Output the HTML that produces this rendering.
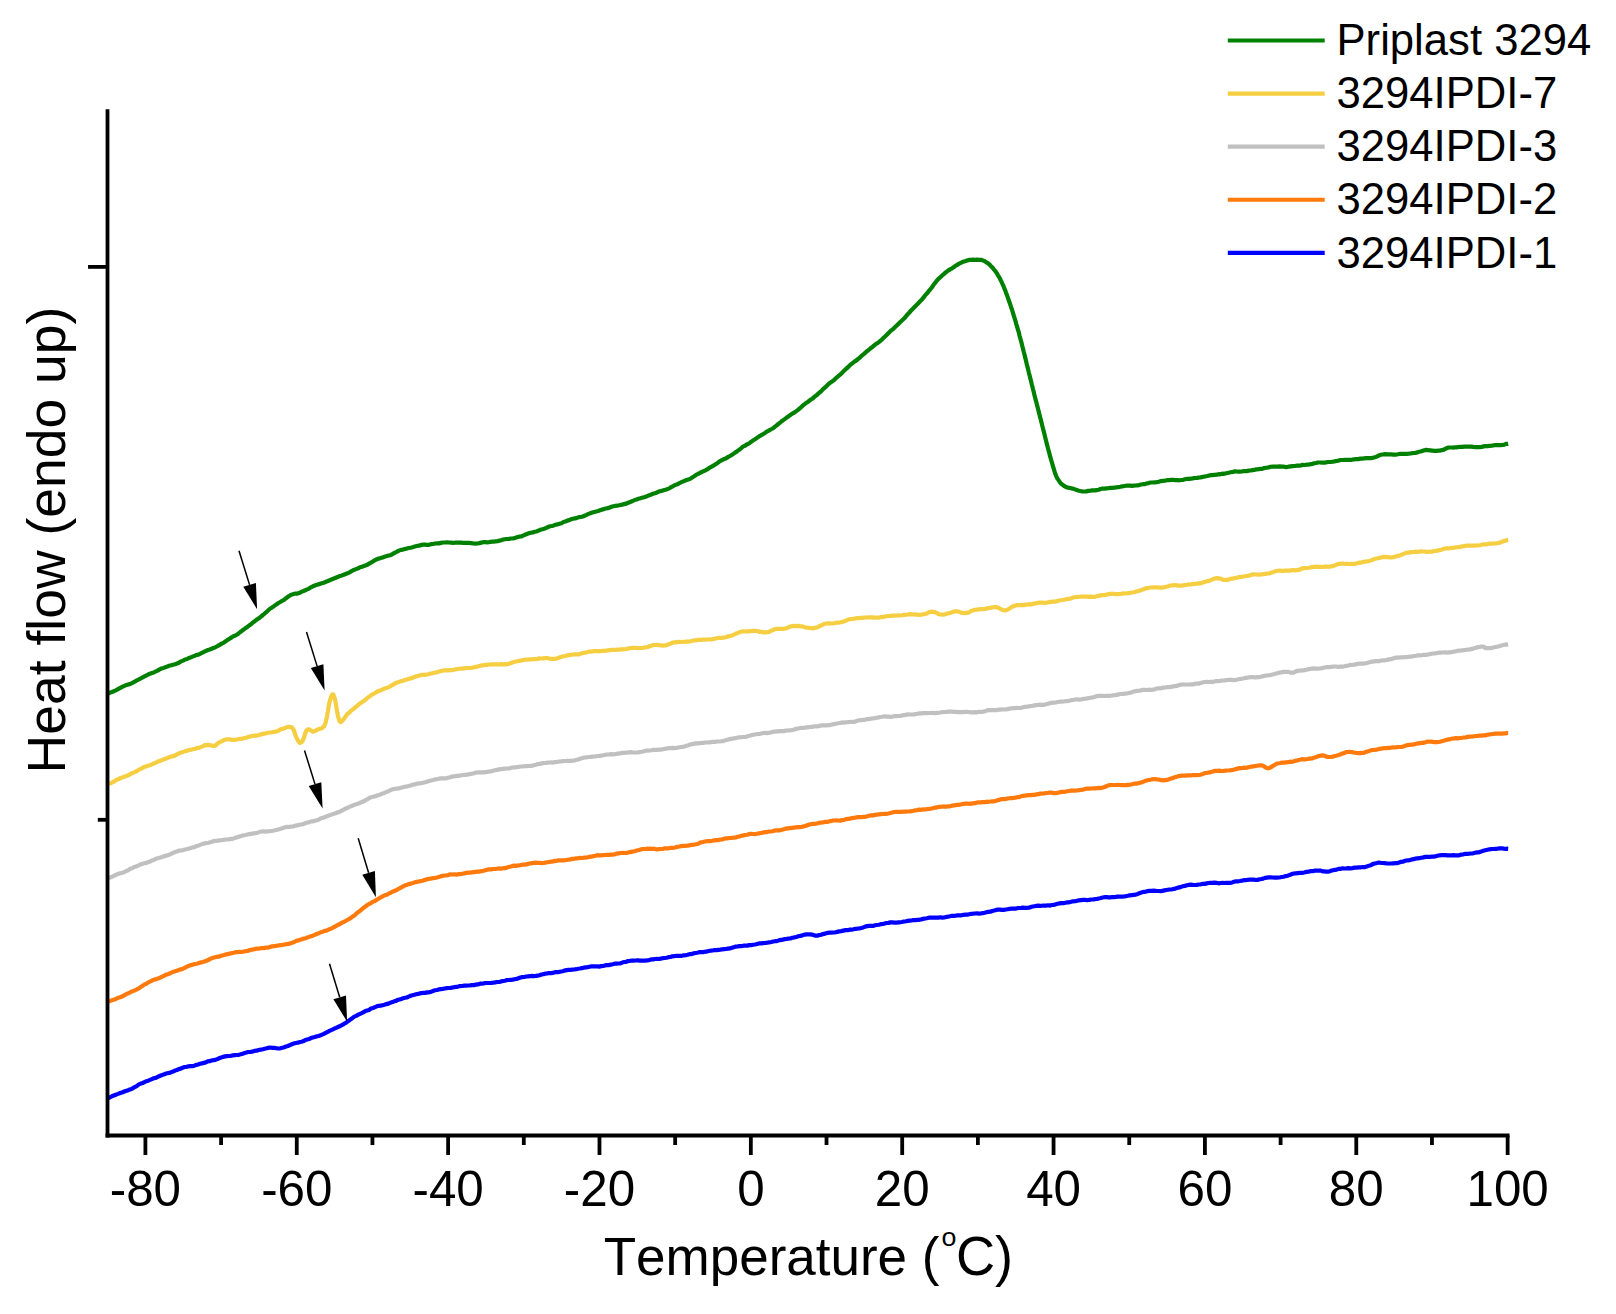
<!DOCTYPE html>
<html lang="en"><head><meta charset="utf-8"><title>DSC heat flow curves</title>
<style>html,body{margin:0;padding:0;background:#fff}body{width:1616px;height:1314px;overflow:hidden}svg{display:block}text{font-family:"Liberation Sans",Arial,Helvetica,sans-serif;fill:#000;font-kerning:none}</style></head><body>
<svg width="1616" height="1314" viewBox="0 0 1616 1314">
<rect width="1616" height="1314" fill="#fff"/>
<g fill="none" stroke-width="4.2" stroke-linejoin="round" stroke-linecap="butt">
<path stroke="#0000FF" d="M107.7,1098.1L108.8,1097.9L110.2,1097.1L111.9,1096.3L113.8,1095.5L115.8,1094.7L118.0,1093.9L120.3,1093.0L122.6,1092.3L125.0,1091.3L126.5,1090.8L128.2,1090.2L129.8,1089.5L131.6,1088.9L133.4,1087.9L135.2,1086.8L137.0,1085.9L138.9,1084.4L140.8,1083.6L142.6,1083.0L144.5,1082.1L146.4,1081.2L148.2,1080.7L150.0,1079.9L151.9,1079.1L153.8,1078.3L155.8,1077.9L157.7,1076.9L159.6,1076.0L161.5,1075.2L163.5,1074.6L165.4,1073.8L167.3,1073.3L169.2,1072.9L171.2,1072.2L173.1,1071.6L175.0,1070.6L176.9,1070.0L178.8,1069.1L180.8,1068.6L182.7,1067.7L184.6,1067.0L186.5,1066.8L188.5,1066.4L190.4,1066.2L192.3,1066.1L194.2,1065.7L196.2,1064.9L198.1,1064.5L200.0,1063.7L201.9,1063.4L203.8,1062.9L205.8,1062.4L207.7,1061.4L209.6,1061.2L211.5,1060.5L213.5,1060.1L215.4,1059.9L217.3,1059.1L219.2,1058.3L221.2,1057.6L223.1,1056.9L225.0,1056.4L226.9,1056.2L228.9,1056.0L230.9,1055.8L232.9,1055.4L234.8,1055.2L236.8,1055.0L238.8,1054.8L240.7,1054.3L242.7,1053.7L244.6,1053.1L246.4,1052.6L248.2,1052.0L250.0,1052.0L252.2,1051.7L254.4,1050.9L256.6,1050.7L258.7,1050.0L260.8,1049.6L262.8,1049.2L264.7,1048.7L266.6,1048.3L268.3,1047.9L270.0,1047.5L272.5,1047.9L274.5,1047.9L276.4,1048.2L278.2,1048.5L280.2,1048.3L282.5,1047.7L284.2,1047.3L286.0,1046.5L287.9,1046.0L289.8,1045.1L291.8,1044.3L293.8,1043.5L295.8,1043.0L297.9,1042.7L300.0,1042.0L301.7,1041.7L303.5,1041.1L305.3,1040.1L307.2,1039.5L309.1,1039.0L310.9,1038.1L312.8,1037.5L314.7,1037.0L316.5,1036.4L318.3,1036.0L320.0,1035.4L321.9,1034.7L323.8,1033.8L325.7,1032.8L327.5,1032.0L329.4,1030.9L331.2,1030.1L332.9,1029.4L334.5,1028.5L336.1,1027.9L337.5,1027.2L339.6,1026.3L341.3,1025.4L342.8,1024.7L344.3,1023.6L345.8,1022.9L347.5,1021.6L349.1,1020.5L350.8,1019.2L352.6,1018.0L354.3,1016.6L356.2,1015.9L358.1,1014.7L360.0,1013.9L361.7,1013.1L363.5,1012.2L365.3,1011.1L367.2,1010.5L369.1,1009.9L371.0,1008.6L373.0,1008.0L375.0,1007.1L376.8,1006.3L378.7,1005.8L380.6,1005.7L382.5,1005.2L384.4,1004.7L386.4,1004.1L388.4,1003.6L390.4,1002.8L392.5,1002.1L394.2,1001.3L396.0,1000.9L397.7,999.9L399.5,999.5L401.3,998.9L403.1,998.3L404.9,997.8L406.8,997.5L408.7,996.6L410.6,995.8L412.5,995.3L414.3,994.8L416.1,994.2L417.9,993.9L419.7,993.4L421.6,993.1L423.4,992.8L425.3,992.9L427.2,992.4L429.1,992.3L431.1,991.7L433.0,991.0L435.0,990.3L436.9,990.0L438.8,989.4L440.7,989.1L442.7,988.9L444.7,988.5L446.7,988.1L448.7,988.0L450.6,987.9L452.6,987.5L454.5,987.1L456.4,986.8L458.2,986.6L460.0,986.1L462.2,986.0L464.2,985.7L466.2,985.7L468.1,985.5L470.0,985.4L471.9,985.2L473.8,985.1L475.8,984.6L477.8,984.4L480.0,983.7L481.8,983.7L483.6,983.4L485.4,983.0L487.3,983.0L489.3,983.0L491.2,982.9L493.2,982.7L495.2,982.4L497.1,982.0L499.1,982.0L501.1,981.4L503.1,981.0L505.0,980.7L506.9,980.1L508.8,980.0L510.8,979.8L512.7,979.6L514.6,979.2L516.5,978.9L518.5,978.2L520.4,977.5L522.3,977.1L524.2,977.0L526.2,976.5L528.1,976.3L530.0,976.2L531.9,975.9L533.8,976.1L535.8,975.9L537.7,975.6L539.6,975.3L541.5,974.5L543.5,974.2L545.4,973.6L547.3,973.4L549.2,973.0L551.2,973.1L553.1,972.9L555.0,972.2L556.9,972.2L558.8,972.1L560.8,971.5L562.7,971.2L564.6,970.6L566.5,970.1L568.5,969.9L570.4,969.8L572.3,969.6L574.2,969.5L576.2,969.2L578.1,968.8L580.0,968.5L581.9,968.1L583.8,967.7L585.8,967.4L587.7,967.1L589.6,966.7L591.5,966.3L593.5,966.3L595.4,966.3L597.3,966.4L599.2,966.6L601.2,966.1L603.1,966.0L605.0,965.4L606.9,965.2L608.8,965.1L610.8,964.6L612.7,964.2L614.6,963.7L616.5,963.6L618.5,963.5L620.4,963.3L622.3,962.6L624.2,962.0L626.2,961.8L628.1,961.0L630.0,960.8L631.9,960.5L633.8,960.6L635.8,960.5L637.7,960.2L639.6,960.6L641.5,960.7L643.5,960.6L645.4,960.7L647.3,960.3L649.2,960.1L651.2,959.4L653.1,959.4L655.0,959.0L656.9,958.9L658.8,959.0L660.8,958.6L662.7,958.2L664.6,958.0L666.5,957.7L668.5,957.2L670.4,957.0L672.3,956.3L674.2,956.2L676.2,955.8L678.1,955.8L680.0,955.8L681.9,955.8L683.8,955.3L685.8,955.1L687.7,954.8L689.6,954.1L691.5,954.1L693.5,953.4L695.4,953.0L697.3,952.7L699.2,952.2L701.2,952.1L703.1,952.1L705.0,951.7L706.9,951.6L708.8,951.0L710.8,950.7L712.7,950.5L714.6,950.0L716.5,950.1L718.5,949.8L720.4,949.6L722.3,949.3L724.2,949.1L726.2,948.9L728.1,948.6L730.0,948.4L731.9,947.8L733.8,947.2L735.8,946.6L737.7,946.4L739.6,946.1L741.5,946.1L743.5,945.7L745.4,945.7L747.3,945.6L749.2,945.1L751.2,945.1L753.1,944.8L755.0,944.5L757.0,944.0L759.0,943.4L761.0,943.4L763.1,943.1L765.2,943.0L767.3,942.7L769.3,942.3L771.3,942.0L773.2,941.5L775.1,941.2L776.8,941.1L778.5,940.6L780.0,940.1L782.7,939.6L784.9,939.1L786.7,938.9L788.4,938.6L790.3,938.5L792.5,937.7L794.3,937.4L796.2,937.0L798.3,936.3L800.5,935.9L802.6,935.2L804.7,934.6L806.7,934.3L808.5,934.3L810.0,934.4L812.5,934.7L814.1,935.3L815.5,935.7L817.5,935.7L819.2,935.0L821.0,934.8L823.0,934.1L825.1,933.6L827.4,932.9L830.0,932.6L831.7,932.6L833.4,932.5L835.3,932.3L837.2,931.9L839.2,931.4L841.3,931.1L843.4,930.6L845.6,930.1L847.8,930.2L850.0,929.6L851.8,929.6L853.6,929.3L855.4,928.8L857.3,928.7L859.3,928.5L861.2,928.0L863.2,927.4L865.2,926.6L867.1,926.1L869.1,925.8L871.1,925.8L873.1,925.9L875.0,925.3L876.9,925.0L878.8,924.7L880.8,924.2L882.7,924.0L884.6,923.5L886.5,923.0L888.5,922.9L890.4,922.4L892.3,922.4L894.2,922.6L896.2,922.7L898.1,922.4L900.0,922.3L901.9,922.0L903.8,921.5L905.8,921.3L907.7,920.9L909.6,920.7L911.5,920.5L913.5,920.0L915.4,920.1L917.3,919.9L919.2,919.8L921.2,919.4L923.1,918.9L925.0,918.5L926.9,918.2L928.8,917.7L930.8,917.7L932.7,917.5L934.6,917.6L936.5,917.5L938.5,917.6L940.4,917.3L942.3,917.6L944.2,917.5L946.2,917.0L948.1,916.6L950.0,916.3L951.9,915.8L953.8,915.8L955.8,915.6L957.7,915.3L959.6,915.4L961.5,915.3L963.5,914.8L965.4,914.7L967.3,914.7L969.2,914.2L971.2,913.8L973.1,913.7L975.0,913.5L976.9,913.3L978.8,913.6L980.8,913.5L982.7,913.1L984.6,912.7L986.5,912.2L988.5,911.9L990.4,911.7L992.3,911.0L994.2,910.5L996.2,909.9L998.1,909.6L1000.0,909.6L1001.9,909.8L1003.8,909.8L1005.8,909.5L1007.7,909.2L1009.6,908.9L1011.5,908.7L1013.5,908.7L1015.4,908.6L1017.3,908.2L1019.2,908.0L1021.2,907.9L1023.1,907.7L1025.0,907.8L1026.9,907.8L1028.8,907.6L1030.8,907.1L1032.7,906.5L1034.6,906.2L1036.5,905.9L1038.5,905.6L1040.4,905.8L1042.3,905.7L1044.2,905.5L1046.2,905.6L1048.1,905.3L1050.0,905.6L1051.9,905.0L1053.8,904.9L1055.8,904.3L1057.7,903.8L1059.6,903.3L1061.5,903.1L1063.5,903.2L1065.4,902.7L1067.3,902.4L1069.2,902.3L1071.2,901.8L1073.1,901.3L1075.0,901.1L1077.0,900.8L1079.0,900.3L1081.0,900.1L1083.1,899.9L1085.2,899.8L1087.3,900.2L1089.3,899.8L1091.3,899.5L1093.3,899.5L1095.1,899.1L1096.9,899.0L1098.5,898.5L1100.0,898.2L1102.7,897.5L1104.9,897.2L1106.8,897.2L1108.4,897.4L1110.1,897.3L1112.0,897.2L1113.9,897.1L1115.7,896.9L1117.4,896.6L1119.4,896.5L1121.7,896.6L1124.5,896.3L1126.0,896.1L1127.8,895.8L1129.6,895.4L1131.6,895.1L1133.7,894.8L1135.8,894.6L1137.9,893.9L1140.0,892.9L1142.1,892.3L1144.2,891.8L1146.1,891.6L1147.9,891.1L1149.5,890.9L1151.8,890.9L1153.8,890.7L1155.5,890.8L1157.2,891.0L1158.8,891.0L1160.5,891.2L1162.3,890.9L1164.5,890.4L1166.3,890.0L1168.1,889.7L1170.0,889.5L1172.0,889.3L1174.1,888.9L1176.2,888.2L1178.3,887.6L1180.5,887.1L1182.7,886.3L1184.8,885.9L1187.0,885.3L1188.9,884.9L1190.8,884.6L1192.8,884.9L1194.8,885.0L1196.8,884.9L1198.8,884.5L1200.8,884.3L1202.8,883.9L1204.8,883.9L1206.7,883.4L1208.5,883.0L1210.3,882.8L1212.0,882.9L1214.3,882.6L1216.5,882.9L1218.6,883.3L1220.6,883.0L1222.5,882.8L1224.3,883.0L1226.1,882.8L1227.8,882.9L1229.5,882.8L1231.8,882.6L1233.9,881.8L1235.9,881.4L1237.8,881.3L1239.8,881.0L1242.0,880.6L1243.8,880.2L1245.7,880.2L1247.7,879.8L1249.7,879.5L1251.6,879.7L1253.5,879.7L1255.3,879.8L1257.0,880.0L1259.3,879.4L1261.4,879.0L1263.2,878.6L1265.1,877.9L1267.0,877.6L1268.9,877.4L1270.8,877.4L1272.6,877.5L1274.7,877.7L1277.0,877.7L1278.6,877.5L1280.2,877.3L1281.9,877.0L1283.7,876.7L1285.6,876.1L1287.6,875.7L1289.7,874.9L1292.0,874.1L1293.8,873.5L1295.7,873.3L1297.8,873.1L1299.9,872.9L1302.1,872.8L1304.4,872.5L1306.6,871.8L1308.7,871.7L1310.8,871.1L1312.7,871.2L1314.5,870.7L1316.7,870.5L1318.8,870.7L1320.7,870.6L1322.5,871.3L1324.2,871.3L1325.9,871.6L1327.7,871.6L1329.5,871.4L1331.3,870.6L1333.1,870.2L1334.9,869.9L1336.7,869.7L1338.5,868.9L1340.4,868.9L1342.4,868.3L1344.5,868.5L1346.3,868.4L1348.3,868.2L1350.4,868.4L1352.5,868.1L1354.7,867.6L1356.8,867.6L1358.9,867.4L1360.9,867.3L1362.8,867.0L1364.5,867.2L1366.6,866.6L1368.4,865.8L1370.0,865.5L1371.5,864.9L1373.1,863.9L1374.9,863.5L1377.0,863.0L1378.7,862.5L1380.6,862.8L1382.6,863.0L1384.7,863.1L1386.8,863.5L1389.0,863.5L1391.1,863.5L1393.2,863.3L1395.2,863.2L1397.0,863.2L1399.1,862.6L1401.0,861.8L1402.8,861.7L1404.5,861.0L1406.2,860.5L1408.0,860.3L1409.9,860.1L1412.0,859.4L1413.8,859.2L1415.6,858.6L1417.5,858.3L1419.4,858.2L1421.4,857.8L1423.4,857.4L1425.5,856.9L1427.6,856.9L1429.8,856.9L1432.0,856.6L1433.8,856.7L1435.6,856.2L1437.5,855.7L1439.5,855.3L1441.5,855.2L1443.5,855.1L1445.5,855.1L1447.5,855.3L1449.5,855.4L1451.5,855.4L1453.4,855.2L1455.2,855.3L1457.0,855.3L1459.2,855.3L1461.3,854.6L1463.4,854.3L1465.4,853.9L1467.3,853.8L1469.2,853.7L1471.2,853.5L1473.1,853.3L1475.0,852.8L1477.0,852.4L1479.0,852.3L1481.1,851.6L1483.3,850.8L1485.4,850.3L1487.5,849.8L1489.6,849.3L1491.6,849.0L1493.6,849.0L1495.4,848.8L1497.0,848.8L1499.5,848.4L1501.8,848.3L1503.9,848.6L1505.7,848.8L1507.1,848.7L1508.2,848.8"/>
<path stroke="#FF7A0C" d="M107.7,1001.4L108.8,1001.3L110.2,1000.9L111.9,1000.2L113.8,999.8L115.8,999.0L118.0,997.8L120.3,997.2L122.6,996.2L125.0,994.9L126.5,993.9L128.2,993.3L129.8,992.6L131.6,991.5L133.4,990.9L135.2,990.2L137.0,989.4L138.9,988.3L140.8,986.8L142.6,985.9L144.5,984.4L146.4,983.7L148.2,982.4L150.0,981.6L151.8,980.7L153.6,979.8L155.4,979.4L157.1,978.8L158.9,978.2L160.7,977.3L162.5,976.5L164.3,975.8L166.1,974.6L167.9,974.2L169.6,973.5L171.4,972.7L173.2,971.9L175.0,971.3L177.0,970.8L178.9,969.8L181.0,969.4L183.0,968.7L185.1,967.7L187.1,966.4L189.1,965.8L191.1,965.0L193.0,964.6L194.9,964.0L196.7,963.7L198.4,963.2L200.0,962.6L202.4,962.1L204.5,961.5L206.4,960.8L208.1,960.0L209.8,959.3L211.5,958.3L213.2,957.7L215.0,957.3L216.8,956.9L218.6,956.7L220.4,956.0L222.2,955.5L224.0,955.0L225.9,954.4L227.9,954.2L230.0,953.5L231.8,953.1L233.7,952.8L235.6,952.1L237.6,952.1L239.7,951.8L241.8,952.0L243.8,951.5L245.9,951.1L248.0,950.8L250.0,950.0L252.0,949.7L254.0,949.4L255.9,948.7L257.9,948.7L259.8,948.4L261.8,948.0L263.8,948.1L265.8,947.6L267.9,947.7L270.0,946.9L272.0,946.3L274.0,946.2L276.0,945.8L278.1,945.5L280.2,945.2L282.3,945.1L284.4,944.5L286.5,944.1L288.5,943.9L290.5,943.3L292.5,942.7L294.4,941.8L296.3,940.9L298.2,940.4L300.1,939.8L301.9,939.3L303.7,938.5L305.5,938.3L307.3,937.4L309.0,936.9L310.8,936.2L312.5,935.9L314.6,934.9L316.7,933.9L318.7,933.2L320.7,932.3L322.7,931.7L324.6,930.9L326.5,930.6L328.3,929.7L330.0,929.1L332.1,928.1L334.0,927.0L335.8,926.1L337.6,925.0L339.3,924.3L340.9,923.4L342.5,922.4L344.3,921.7L346.0,920.7L347.7,919.7L349.3,918.8L350.9,918.0L352.5,916.6L354.2,915.6L355.8,914.2L357.5,912.5L359.2,911.4L360.8,910.2L362.5,908.6L364.1,907.5L365.7,906.3L367.3,905.0L369.0,904.0L370.7,903.3L372.5,902.0L374.1,901.4L375.8,900.4L377.6,899.3L379.3,898.2L381.2,897.1L383.1,896.1L385.0,895.2L386.8,894.8L388.6,893.7L390.4,892.8L392.3,891.8L394.3,891.0L396.2,890.2L398.1,889.1L400.0,888.2L401.8,887.2L403.6,886.2L405.4,885.3L407.2,884.7L409.0,884.1L410.9,883.6L412.9,883.0L415.0,882.3L416.8,881.9L418.6,881.5L420.5,881.1L422.4,880.7L424.4,880.0L426.4,879.4L428.5,878.9L430.6,878.6L432.8,878.2L435.0,877.9L436.8,877.5L438.6,877.0L440.5,876.4L442.5,875.9L444.5,875.5L446.5,875.5L448.5,874.9L450.5,874.4L452.5,874.5L454.5,874.3L456.4,874.6L458.2,874.2L460.0,874.2L462.2,873.8L464.2,873.4L466.2,872.9L468.1,872.6L470.0,872.6L471.9,872.3L473.8,872.1L475.8,871.9L477.8,871.7L480.0,871.6L481.8,871.1L483.6,870.8L485.4,870.1L487.3,869.7L489.3,869.4L491.2,869.3L493.2,869.0L495.2,869.0L497.1,868.7L499.1,868.4L501.1,868.6L503.1,868.2L505.0,868.1L506.9,867.6L508.8,867.0L510.8,866.5L512.7,865.9L514.6,865.7L516.5,865.8L518.5,865.4L520.4,865.1L522.3,864.7L524.2,864.6L526.2,864.4L528.1,863.9L530.0,863.5L531.9,863.1L533.8,862.9L535.8,862.7L537.7,862.8L539.6,862.9L541.5,863.1L543.5,863.0L545.4,862.6L547.3,862.3L549.2,862.0L551.2,861.7L553.1,861.4L555.0,860.9L556.9,860.8L558.8,860.3L560.8,860.4L562.7,860.3L564.6,860.3L566.5,860.0L568.5,859.7L570.4,859.4L572.3,858.9L574.2,858.8L576.2,858.3L578.1,858.3L580.0,857.9L581.9,858.0L583.8,857.7L585.8,857.7L587.7,857.3L589.6,856.9L591.5,856.7L593.5,856.1L595.4,855.8L597.3,855.2L599.2,855.3L601.2,855.4L603.1,855.2L605.0,855.0L606.9,854.8L608.9,854.8L610.9,854.6L612.9,854.6L614.8,854.2L616.8,853.6L618.8,853.3L620.7,853.0L622.7,852.9L624.6,853.0L626.4,852.8L628.2,852.6L630.0,852.1L632.2,851.6L634.5,851.2L636.7,850.5L638.8,850.0L640.9,849.4L643.0,849.0L644.9,849.0L646.7,848.7L648.4,848.9L650.0,848.7L652.4,848.8L654.0,848.7L655.4,849.1L657.2,849.4L660.0,849.0L661.4,849.0L663.1,848.8L664.8,848.4L666.8,848.3L668.8,848.3L670.8,847.8L672.9,847.8L675.1,847.5L677.2,846.8L679.3,846.5L681.3,846.1L683.2,845.9L685.0,845.9L687.2,845.7L689.2,845.4L691.2,844.8L693.1,844.8L695.0,844.5L696.9,844.0L698.8,843.4L700.8,842.4L702.8,842.0L705.0,841.5L706.8,841.2L708.6,841.1L710.4,841.1L712.3,840.8L714.3,840.4L716.2,840.1L718.2,840.2L720.2,839.6L722.1,839.5L724.1,838.7L726.1,838.3L728.1,838.3L730.0,838.0L731.9,837.8L733.8,837.7L735.8,837.5L737.7,836.8L739.6,836.4L741.5,835.8L743.5,835.4L745.4,835.0L747.3,834.7L749.2,834.1L751.2,833.9L753.1,834.0L755.0,834.1L756.9,833.8L758.8,833.4L760.8,833.0L762.7,832.6L764.6,832.2L766.5,832.2L768.5,831.6L770.4,831.5L772.3,831.2L774.2,830.7L776.2,830.4L778.1,830.3L780.0,830.3L781.9,829.8L783.9,829.3L785.9,828.6L787.9,828.3L789.8,828.1L791.8,827.9L793.8,827.7L795.7,827.4L797.7,827.2L799.6,827.2L801.4,827.0L803.2,826.4L805.0,826.0L807.2,825.4L809.2,824.5L811.2,824.2L813.1,823.8L815.0,823.8L816.9,823.5L818.8,822.9L820.8,822.6L822.8,822.5L825.0,821.9L826.8,821.9L828.6,821.6L830.4,821.1L832.3,820.7L834.3,820.5L836.2,820.4L838.2,820.5L840.2,820.6L842.1,820.1L844.1,819.8L846.1,819.2L848.1,818.9L850.0,818.7L851.9,818.1L853.8,817.9L855.8,817.5L857.7,817.1L859.6,817.1L861.5,817.2L863.5,816.8L865.4,816.9L867.3,816.2L869.2,815.7L871.2,815.4L873.1,815.4L875.0,814.9L876.9,814.7L878.8,814.4L880.8,814.2L882.7,814.0L884.6,813.8L886.5,813.8L888.5,813.5L890.4,813.0L892.3,812.5L894.2,812.0L896.2,811.8L898.1,811.9L900.0,811.9L901.9,811.9L903.8,811.7L905.8,811.7L907.7,811.5L909.6,811.4L911.5,811.2L913.5,810.8L915.4,810.3L917.3,810.1L919.2,809.6L921.2,809.8L923.1,809.4L925.0,809.5L926.9,809.1L928.8,808.9L930.8,808.6L932.7,808.2L934.6,807.7L936.5,807.6L938.5,806.9L940.4,806.8L942.3,806.5L944.2,806.7L946.2,806.7L948.1,806.4L950.0,806.3L951.9,805.8L953.8,805.4L955.8,805.1L957.7,804.8L959.6,804.7L961.5,804.3L963.5,803.9L965.4,803.6L967.3,803.5L969.2,803.8L971.2,803.6L973.1,803.4L975.0,803.2L976.9,802.5L978.8,802.4L980.8,802.3L982.7,802.1L984.6,802.2L986.5,801.7L988.5,801.8L990.4,801.5L992.3,801.4L994.2,801.3L996.2,800.7L998.1,800.1L1000.0,799.6L1001.9,799.0L1003.8,799.1L1005.8,798.9L1007.7,798.5L1009.6,798.2L1011.5,798.2L1013.5,797.9L1015.4,797.6L1017.3,797.2L1019.2,797.1L1021.2,796.3L1023.1,795.8L1025.0,795.6L1026.9,795.4L1028.8,795.2L1030.8,795.1L1032.7,794.9L1034.6,794.9L1036.5,794.4L1038.5,794.2L1040.4,793.6L1042.3,793.5L1044.2,793.4L1046.2,793.0L1048.1,792.8L1050.0,792.5L1051.9,792.7L1053.8,793.1L1055.8,793.1L1057.7,792.7L1059.6,792.4L1061.5,791.8L1063.5,791.8L1065.4,791.6L1067.3,791.3L1069.2,791.0L1071.2,790.7L1073.1,790.7L1075.0,790.6L1077.0,790.5L1079.0,790.2L1081.0,789.8L1083.1,789.6L1085.2,788.9L1087.3,788.7L1089.3,788.6L1091.3,788.5L1093.3,788.4L1095.1,788.4L1096.9,788.2L1098.5,787.9L1100.0,788.1L1102.7,787.6L1104.7,787.0L1106.3,786.2L1107.9,785.6L1109.7,785.1L1112.0,785.0L1113.7,785.0L1115.5,785.0L1117.5,784.9L1119.5,785.0L1121.7,785.2L1123.8,785.1L1125.9,785.1L1128.0,784.8L1130.1,784.6L1132.0,784.2L1134.1,783.7L1136.1,783.6L1138.0,783.4L1139.9,782.7L1141.9,782.2L1143.8,781.4L1145.7,780.8L1147.6,780.2L1149.5,779.8L1151.5,779.5L1153.4,779.0L1155.4,779.1L1157.4,779.5L1159.4,779.7L1161.4,780.2L1163.3,780.4L1165.2,780.1L1167.0,779.9L1169.0,779.3L1170.9,778.5L1172.8,778.1L1174.7,777.3L1176.5,776.9L1178.3,776.1L1180.1,775.9L1182.0,775.7L1183.9,775.5L1185.8,775.6L1187.7,775.4L1189.7,775.4L1191.6,775.3L1193.4,775.0L1195.2,775.2L1197.0,775.1L1198.9,775.0L1200.5,774.7L1202.1,774.3L1203.7,773.6L1205.5,773.0L1207.3,772.8L1209.5,772.4L1211.2,772.1L1213.1,771.4L1215.0,770.9L1217.1,770.8L1219.2,770.7L1221.3,771.0L1223.4,771.0L1225.5,770.6L1227.6,770.5L1229.5,770.4L1231.6,770.2L1233.6,769.7L1235.7,769.1L1237.7,768.6L1239.6,768.1L1241.5,768.2L1243.4,767.7L1245.2,767.9L1247.0,767.7L1249.2,767.0L1251.4,766.6L1253.5,766.3L1255.5,766.0L1257.4,765.7L1259.1,765.5L1260.8,765.2L1263.0,765.8L1264.8,766.9L1266.4,767.8L1268.2,768.3L1269.8,767.8L1271.4,767.0L1273.0,765.8L1274.8,764.8L1277.0,763.5L1278.6,763.3L1280.3,763.0L1282.1,762.6L1284.0,762.6L1285.9,762.4L1287.9,762.2L1290.0,761.7L1292.0,761.8L1293.9,761.4L1295.8,760.6L1297.9,760.3L1299.9,759.8L1302.0,759.2L1304.0,759.4L1306.0,759.3L1307.8,759.0L1309.5,758.6L1311.8,758.5L1313.8,757.7L1315.6,757.3L1317.3,756.6L1319.0,756.0L1320.8,755.6L1322.7,755.4L1324.4,755.7L1326.2,756.7L1328.2,756.9L1330.8,757.0L1332.3,756.9L1334.0,756.2L1335.9,755.8L1337.9,755.3L1340.0,754.6L1342.0,753.6L1344.1,753.1L1346.0,752.1L1347.8,752.0L1349.5,751.9L1351.9,752.1L1354.0,752.5L1356.0,752.8L1357.9,753.2L1359.8,753.2L1362.0,752.9L1363.7,752.9L1365.2,752.2L1366.8,751.6L1368.4,751.3L1370.2,750.6L1372.1,750.0L1374.4,749.8L1377.0,749.6L1378.6,749.1L1380.3,748.7L1382.2,748.6L1384.2,748.0L1386.3,748.1L1388.4,747.8L1390.6,747.8L1392.8,747.4L1395.0,747.5L1397.2,747.1L1399.3,747.0L1401.4,747.0L1403.4,746.4L1405.3,745.8L1407.0,745.2L1409.5,744.9L1411.8,744.6L1414.0,744.4L1416.2,743.8L1418.2,743.4L1420.2,743.2L1422.0,742.7L1423.8,742.8L1425.5,742.3L1427.0,741.7L1429.4,741.5L1431.0,741.6L1432.4,741.8L1434.2,742.1L1437.0,742.1L1438.4,742.0L1440.0,741.7L1441.7,741.2L1443.6,740.8L1445.5,740.2L1447.5,739.6L1449.6,739.4L1451.7,738.6L1453.8,738.5L1455.9,738.1L1458.0,738.3L1460.0,738.0L1462.0,737.8L1463.9,737.5L1465.9,737.4L1467.8,736.9L1469.8,736.6L1471.8,736.5L1473.8,736.3L1475.7,736.0L1477.7,735.9L1479.6,735.5L1481.5,735.6L1483.4,735.4L1485.2,735.4L1487.0,734.8L1489.2,734.5L1491.4,734.2L1493.6,733.8L1495.9,733.7L1498.1,733.6L1500.2,733.7L1502.2,733.6L1504.1,733.3L1505.7,733.5L1507.1,733.0L1508.2,733.0"/>
<path stroke="#C0C0C0" d="M107.7,878.6L108.8,877.8L110.2,877.5L111.9,876.8L113.8,875.8L115.8,875.0L118.0,873.9L120.3,873.3L122.6,872.8L125.0,871.7L126.7,870.8L128.4,870.2L130.2,868.8L132.1,868.2L134.1,867.0L136.0,866.5L138.0,865.6L140.0,864.6L142.1,863.9L144.1,863.3L146.1,862.9L148.1,862.2L150.0,861.6L151.9,860.5L153.8,859.9L155.8,858.8L157.7,858.2L159.6,857.7L161.5,857.3L163.5,856.4L165.4,855.9L167.3,855.3L169.2,854.7L171.2,853.9L173.1,852.9L175.0,852.1L177.0,851.5L179.0,850.6L181.0,850.4L183.1,850.1L185.2,849.5L187.3,849.0L189.3,848.5L191.3,847.7L193.2,847.4L195.1,846.8L196.8,845.9L198.5,845.4L200.0,844.9L202.7,843.9L204.9,843.4L206.7,843.0L208.4,842.8L210.3,842.3L212.5,841.6L214.2,841.1L215.9,840.8L217.7,840.6L219.5,840.4L221.4,840.2L223.4,839.9L225.5,839.5L227.7,839.5L230.0,839.1L231.7,838.9L233.5,838.4L235.4,837.8L237.3,837.2L239.3,836.5L241.3,835.9L243.4,835.3L245.4,835.0L247.4,834.5L249.4,834.2L251.4,833.9L253.2,833.3L255.0,833.3L257.2,832.9L259.3,832.1L261.4,831.5L263.4,831.4L265.3,831.6L267.2,831.4L269.2,831.3L271.1,831.0L273.0,830.7L275.0,830.3L277.0,829.8L279.0,829.2L281.0,828.8L283.0,827.9L285.0,827.3L287.0,826.9L289.0,827.0L291.0,826.6L293.0,826.5L295.0,825.8L297.0,825.4L299.1,824.8L301.2,824.5L303.2,824.1L305.3,823.2L307.4,822.5L309.4,822.1L311.3,821.4L313.2,821.3L315.0,820.7L317.1,820.3L319.1,819.4L321.0,818.3L322.8,817.9L324.6,817.2L326.4,816.5L328.2,815.8L330.0,815.1L331.9,814.4L333.8,813.8L335.6,813.2L337.5,812.4L339.4,811.9L341.2,810.9L343.1,810.0L345.0,808.9L346.9,808.0L348.8,807.2L350.6,806.3L352.5,805.7L354.4,804.8L356.2,804.2L358.1,803.7L360.0,802.8L361.9,802.0L363.8,801.2L365.6,800.1L367.5,799.2L369.4,798.0L371.2,797.2L373.1,796.8L375.0,796.4L376.9,795.5L378.8,795.1L380.6,794.3L382.5,793.5L384.4,792.9L386.2,792.1L388.1,791.5L390.0,790.4L391.8,789.6L393.6,789.1L395.4,788.7L397.2,788.6L399.0,788.4L400.9,787.7L402.9,787.2L405.0,786.7L406.8,786.5L408.7,786.0L410.6,785.5L412.6,784.7L414.7,784.5L416.8,783.7L418.8,783.5L420.9,783.2L423.0,782.8L425.0,782.3L427.0,781.8L429.0,781.0L431.0,780.5L433.0,780.0L435.0,779.4L437.0,779.1L439.0,778.7L441.0,778.4L443.0,778.4L445.0,778.3L447.0,778.1L449.1,777.5L451.2,776.9L453.2,776.4L455.3,776.1L457.4,775.7L459.4,775.8L461.3,775.3L463.2,775.0L465.0,774.8L467.0,774.7L468.9,774.2L470.6,774.1L472.2,773.5L473.9,773.3L475.7,772.6L477.7,772.4L480.0,772.3L481.6,772.3L483.3,772.4L485.1,772.2L487.0,771.9L488.9,771.5L490.9,771.4L492.9,770.7L494.9,770.3L497.0,769.9L499.0,769.4L501.1,769.1L503.0,768.8L505.0,768.6L506.9,768.5L508.8,768.5L510.8,767.9L512.7,767.5L514.6,767.3L516.5,767.1L518.5,767.0L520.4,766.5L522.3,766.5L524.2,766.2L526.2,766.2L528.1,766.0L530.0,765.9L531.9,765.8L533.9,765.2L535.9,764.8L537.9,764.0L539.8,763.9L541.8,763.4L543.8,763.0L545.7,763.0L547.7,762.6L549.6,762.5L551.4,762.4L553.2,762.6L555.0,762.1L557.2,761.9L559.3,761.5L561.3,761.4L563.2,761.2L565.2,761.0L567.1,760.9L569.0,760.8L570.9,760.9L572.9,760.6L575.0,760.3L576.9,759.8L578.8,759.4L580.7,758.5L582.6,758.0L584.5,757.5L586.5,757.3L588.5,757.0L590.6,756.9L592.8,756.7L595.1,756.5L597.5,756.0L599.3,755.9L601.1,755.7L603.1,755.2L605.1,754.8L607.2,754.5L609.3,754.4L611.4,754.2L613.6,754.4L615.8,754.0L617.9,753.7L620.1,753.4L622.2,752.8L624.2,752.8L626.2,752.7L628.2,752.5L630.0,752.1L632.2,752.4L634.3,752.5L636.3,752.5L638.2,752.4L640.2,752.0L642.0,751.7L643.9,751.3L645.7,750.7L647.6,750.7L649.4,750.5L651.2,750.3L653.1,749.9L655.0,749.9L656.9,749.9L658.9,749.7L660.9,749.6L662.9,749.2L664.8,748.8L666.8,748.5L668.8,748.2L670.7,748.1L672.7,747.9L674.6,748.1L676.4,748.0L678.2,747.5L680.0,747.2L682.2,746.8L684.3,746.6L686.4,745.7L688.4,745.2L690.3,744.4L692.2,744.1L694.2,743.6L696.1,743.4L698.0,743.3L700.0,743.2L701.9,742.8L703.8,742.8L705.5,742.5L707.3,742.5L709.1,742.3L710.9,742.2L712.9,741.9L715.0,741.8L717.4,741.5L720.0,741.5L721.6,741.2L723.3,741.1L725.1,740.3L727.0,739.9L728.9,739.3L730.9,738.9L733.0,738.5L735.1,738.2L737.2,737.7L739.3,737.3L741.4,737.2L743.5,737.0L745.6,737.0L747.6,736.3L749.6,735.8L751.5,735.1L753.3,734.8L755.0,734.5L757.3,734.0L759.4,733.8L761.5,733.5L763.4,733.0L765.3,732.9L767.2,733.1L769.0,732.7L770.8,732.4L772.6,731.9L774.4,731.7L776.3,731.4L778.1,731.3L780.0,731.1L781.9,731.2L783.8,731.1L785.8,730.6L787.7,730.5L789.6,730.3L791.5,730.1L793.5,729.7L795.4,729.1L797.3,728.6L799.2,728.3L801.2,727.8L803.1,728.0L805.0,727.6L806.9,727.4L808.8,727.2L810.8,726.8L812.7,726.8L814.6,726.3L816.5,726.3L818.5,726.1L820.4,725.6L822.3,725.3L824.2,725.3L826.2,725.3L828.1,725.1L830.0,725.1L831.9,724.5L833.9,724.1L835.9,723.7L837.9,723.3L839.8,723.0L841.8,722.4L843.8,722.6L845.7,722.3L847.7,722.2L849.6,722.0L851.4,721.9L853.2,722.0L855.0,721.6L857.2,720.8L859.2,720.3L861.2,720.2L863.1,719.9L865.0,719.8L866.9,719.2L868.8,719.1L870.8,718.6L872.8,718.4L875.0,718.1L876.8,717.7L878.6,717.4L880.4,717.0L882.3,716.7L884.3,716.3L886.2,716.6L888.2,716.7L890.2,716.8L892.1,716.6L894.1,716.2L896.1,716.2L898.1,716.0L900.0,715.9L901.9,715.5L903.8,715.1L905.8,714.9L907.7,714.3L909.6,714.5L911.5,714.5L913.5,714.5L915.4,714.1L917.3,713.8L919.2,713.4L921.2,713.4L923.1,713.1L925.0,713.0L926.9,713.1L928.8,713.0L930.8,713.0L932.7,712.9L934.6,713.1L936.5,712.9L938.5,712.8L940.4,712.5L942.3,712.1L944.2,712.0L946.2,712.0L948.1,711.6L950.0,711.5L952.1,711.7L954.2,711.8L956.2,711.9L958.3,712.2L960.4,712.1L962.5,712.1L964.6,711.9L966.7,711.9L968.8,712.0L970.8,712.3L972.9,712.3L975.0,712.2L976.9,712.3L978.8,711.9L980.8,711.9L982.7,711.8L984.6,711.4L986.5,710.6L988.5,710.1L990.4,710.1L992.3,710.0L994.2,710.1L996.2,710.1L998.1,709.7L1000.0,709.6L1001.9,709.4L1003.8,709.5L1005.8,709.3L1007.7,709.1L1009.6,708.6L1011.5,708.3L1013.5,708.2L1015.4,708.1L1017.3,707.9L1019.2,708.0L1021.2,707.9L1023.1,707.2L1025.0,706.8L1026.9,706.7L1028.8,706.4L1030.8,706.0L1032.7,705.8L1034.6,705.3L1036.5,705.2L1038.5,704.8L1040.4,704.7L1042.3,704.8L1044.2,704.8L1046.2,704.2L1048.1,703.8L1050.0,703.1L1051.9,702.7L1053.8,702.6L1055.8,702.5L1057.7,702.0L1059.6,701.7L1061.5,701.7L1063.5,701.5L1065.4,701.2L1067.3,701.1L1069.2,700.7L1071.2,700.2L1073.1,700.0L1075.0,699.5L1077.0,699.4L1079.0,699.7L1081.0,699.5L1083.1,698.9L1085.2,698.7L1087.3,698.4L1089.3,698.0L1091.3,697.7L1093.3,697.3L1095.1,696.7L1096.9,696.1L1098.5,695.9L1100.0,695.8L1102.6,695.9L1104.5,696.0L1106.0,695.8L1107.5,695.8L1109.4,695.8L1112.0,695.5L1113.5,695.3L1115.1,695.1L1116.9,694.9L1118.7,694.3L1120.7,694.0L1122.7,693.9L1124.7,693.6L1126.8,693.5L1128.9,693.0L1131.0,692.6L1133.0,691.8L1135.0,691.3L1137.0,690.9L1138.9,690.8L1140.8,690.4L1142.8,689.9L1144.7,689.9L1146.6,690.0L1148.5,689.7L1150.5,689.8L1152.4,689.8L1154.3,689.4L1156.2,688.8L1158.2,688.3L1160.1,688.4L1162.0,687.9L1163.8,687.7L1165.3,687.5L1166.7,687.2L1168.1,687.0L1169.3,687.1L1170.7,686.9L1172.1,686.7L1173.7,686.1L1175.6,686.1L1177.8,685.6L1180.4,684.7L1183.4,684.5L1187.0,684.5L1188.4,684.5L1189.8,684.5L1191.4,684.4L1193.1,684.4L1194.8,683.8L1196.6,683.7L1198.5,683.7L1200.5,683.1L1202.5,682.5L1204.6,682.0L1206.7,681.9L1208.9,682.0L1211.1,681.9L1213.3,681.8L1215.6,681.2L1217.9,681.2L1220.2,680.9L1222.5,680.5L1224.8,680.4L1227.1,680.0L1229.4,679.9L1231.7,679.9L1234.0,680.1L1236.3,679.8L1238.5,679.2L1240.7,678.8L1242.8,678.5L1244.9,677.9L1247.0,677.8L1248.9,677.4L1250.9,677.2L1252.7,677.2L1254.5,677.3L1256.2,677.3L1257.8,677.1L1259.3,677.1L1260.7,676.8L1262.0,676.4L1266.3,675.5L1269.7,675.2L1272.4,674.5L1274.4,674.1L1276.1,673.5L1277.4,673.2L1278.5,672.8L1279.5,672.6L1280.7,672.5L1282.0,672.2L1284.6,671.8L1286.7,671.9L1288.5,671.9L1290.2,672.6L1292.0,672.5L1293.4,672.7L1294.1,672.3L1295.1,671.8L1297.4,670.8L1302.0,670.4L1303.3,670.3L1304.7,670.1L1306.2,669.8L1307.9,669.4L1309.7,669.0L1311.6,668.6L1313.5,668.4L1315.6,668.6L1317.7,668.6L1319.8,668.5L1322.1,668.1L1324.3,667.5L1326.6,667.2L1328.9,667.1L1331.2,666.8L1333.4,666.5L1335.7,666.5L1338.0,666.8L1340.2,666.7L1342.3,666.7L1344.4,666.3L1346.4,665.8L1348.4,665.5L1350.2,664.9L1352.0,665.0L1354.3,664.7L1356.5,664.1L1358.7,663.7L1360.8,663.7L1362.8,663.6L1364.8,663.4L1366.7,663.0L1368.6,662.5L1370.4,662.0L1372.3,661.6L1374.1,661.4L1375.9,661.2L1377.7,661.2L1379.5,661.1L1381.3,660.5L1383.2,660.4L1385.1,660.3L1387.0,659.9L1388.9,659.4L1390.9,659.2L1392.8,658.5L1394.7,657.9L1396.6,657.5L1398.5,657.6L1400.4,657.3L1402.3,657.4L1404.2,657.1L1406.1,657.2L1408.0,656.8L1410.0,656.5L1411.9,656.6L1413.9,656.0L1415.9,655.8L1417.9,655.4L1419.9,655.3L1422.0,655.1L1423.9,654.8L1425.9,654.8L1427.9,654.5L1430.0,654.2L1432.1,653.5L1434.3,653.5L1436.4,653.1L1438.6,652.7L1440.8,652.6L1442.9,652.5L1445.1,652.3L1447.2,652.6L1449.3,652.4L1451.3,652.2L1453.3,651.7L1455.2,651.4L1457.0,650.9L1458.8,650.7L1460.4,650.7L1462.0,650.4L1464.9,650.0L1467.5,649.7L1469.9,649.4L1472.2,648.9L1474.2,648.3L1476.0,647.8L1477.7,647.2L1479.3,647.0L1480.7,646.7L1482.0,646.7L1484.2,646.9L1484.7,648.0L1487.0,648.2L1488.4,648.2L1490.2,648.1L1492.2,647.8L1494.4,647.3L1496.8,646.8L1499.1,646.2L1501.4,645.5L1503.5,645.0L1505.5,644.4L1507.1,644.6L1508.2,644.5"/>
<path stroke="#F6CE42" d="M107.7,784.6L108.7,784.0L109.9,783.3L111.4,782.9L113.0,782.0L114.8,781.1L116.7,779.8L118.7,779.0L120.8,778.0L122.9,777.3L125.0,776.5L126.5,776.0L128.2,775.3L129.8,774.4L131.6,773.4L133.4,772.6L135.2,771.9L137.0,771.0L138.9,769.7L140.8,768.8L142.6,767.8L144.5,766.7L146.4,766.4L148.2,765.6L150.0,765.2L151.9,764.3L153.8,763.4L155.8,762.7L157.7,761.6L159.6,761.0L161.5,760.2L163.5,759.5L165.4,758.8L167.3,758.0L169.2,757.3L171.2,756.6L173.1,756.1L175.0,755.6L177.0,754.4L179.0,753.3L181.1,752.6L183.3,751.9L185.4,751.1L187.5,750.6L189.6,749.9L191.7,749.6L193.6,749.0L195.4,748.7L197.1,748.1L198.7,748.0L200.0,747.4L203.1,746.1L204.8,745.2L206.0,745.3L207.5,744.9L209.4,745.1L211.2,745.4L213.1,746.0L215.0,745.6L216.6,744.6L218.1,743.1L219.9,742.1L222.5,740.8L224.0,740.0L225.7,739.6L227.5,739.4L229.5,739.4L231.5,739.8L233.6,739.9L235.8,739.8L237.9,739.3L240.0,738.9L241.9,738.9L243.9,738.1L246.0,737.7L248.1,737.0L250.2,736.4L252.2,736.0L254.3,735.7L256.3,735.6L258.2,735.2L260.0,734.6L262.2,734.1L264.3,733.6L266.3,733.2L268.3,732.8L270.1,732.5L271.9,732.3L273.5,731.9L275.0,731.8L277.4,731.2L279.1,730.3L280.7,729.3L282.5,728.9L284.4,728.3L286.4,727.3L288.5,726.8L290.4,727.1L292.0,727.5L293.2,729.0L294.1,730.8L294.8,733.2L295.5,735.3L296.2,737.1L297.6,739.8L298.8,741.8L300.0,742.9L301.5,742.3L303.0,740.2L303.6,738.6L304.3,736.7L304.9,734.3L305.6,732.3L306.2,730.9L307.9,729.3L309.5,729.6L311.2,730.7L313.0,731.6L314.4,731.3L315.9,730.5L317.5,729.7L319.4,728.8L321.5,728.5L323.2,727.1L324.2,726.1L324.9,724.5L325.5,722.9L326.2,720.1L326.6,718.4L327.0,716.7L327.3,714.5L327.7,712.3L328.1,710.3L328.4,707.8L328.8,706.0L329.1,703.9L329.5,702.4L330.3,699.3L331.0,697.1L331.8,695.2L332.5,694.3L333.4,694.6L334.1,696.6L335.0,699.4L335.4,701.1L335.7,702.8L336.1,705.3L336.5,707.7L336.9,710.1L337.3,712.3L337.6,714.3L338.0,716.0L338.8,719.0L339.6,721.2L340.5,722.1L342.0,721.3L343.8,718.9L344.7,717.7L345.8,716.2L347.5,713.8L348.8,712.9L350.3,711.4L352.0,710.0L353.8,708.8L355.6,707.0L357.5,705.6L358.9,704.2L360.3,703.3L361.8,702.2L363.3,701.3L364.8,700.2L366.5,698.8L368.2,697.3L370.0,696.2L371.5,694.8L373.2,694.0L374.9,693.1L376.6,692.0L378.4,691.1L380.3,690.5L382.1,689.7L383.9,688.8L385.7,688.1L387.5,687.7L389.4,686.8L391.3,685.6L393.2,684.6L395.1,683.4L397.1,682.5L399.0,681.9L400.9,681.2L402.9,680.7L405.0,680.0L406.9,679.4L408.8,678.8L410.7,678.4L412.6,677.8L414.5,677.0L416.5,676.2L418.6,675.9L420.6,675.1L422.8,674.9L425.0,674.9L426.8,674.5L428.6,674.2L430.4,673.5L432.3,673.3L434.3,672.8L436.2,672.4L438.2,671.8L440.2,671.3L442.1,670.8L444.1,670.4L446.1,670.3L448.1,670.3L450.0,670.1L451.9,670.1L453.9,669.7L455.9,669.2L457.9,669.0L459.8,668.7L461.8,668.7L463.8,668.3L465.7,668.1L467.7,668.0L469.6,668.0L471.4,667.9L473.2,667.5L475.0,667.1L477.2,666.6L479.5,666.0L481.7,665.4L483.8,665.2L485.9,664.9L488.0,664.7L489.9,664.5L491.7,664.3L493.4,664.3L495.0,664.4L497.6,664.3L499.6,664.3L501.3,664.2L503.0,664.3L505.0,664.2L506.8,664.3L508.5,663.9L510.3,663.3L512.3,662.5L514.7,661.7L517.5,661.2L519.1,660.9L520.8,660.7L522.7,660.1L524.8,659.7L526.9,659.6L529.1,659.4L531.2,659.4L533.4,659.1L535.5,659.1L537.5,658.9L539.4,658.4L541.0,658.5L542.5,658.4L545.4,658.1L547.3,658.0L548.9,658.5L550.4,658.8L552.5,658.9L554.1,658.9L555.7,658.8L557.3,658.4L559.1,657.6L560.9,657.0L562.9,656.3L565.1,656.0L567.5,655.3L569.1,655.2L570.8,654.7L572.6,654.7L574.5,654.3L576.4,654.4L578.4,654.4L580.4,653.8L582.4,653.3L584.5,652.8L586.5,652.4L588.6,651.6L590.5,651.7L592.5,651.4L594.4,651.0L596.3,651.2L598.3,651.0L600.2,651.2L602.1,650.9L604.0,650.8L606.0,650.6L607.9,650.4L609.8,650.1L611.7,649.8L613.7,649.9L615.6,649.8L617.5,649.6L619.5,649.6L621.5,649.2L623.5,649.3L625.6,649.0L627.7,648.6L629.8,648.2L631.8,648.0L633.8,647.9L635.7,647.9L637.6,648.1L639.3,648.0L641.0,648.0L642.5,648.0L645.3,647.3L647.7,647.0L649.7,646.1L651.5,645.7L653.2,645.1L655.0,645.0L657.2,644.9L659.2,645.2L661.1,645.4L663.0,645.6L665.0,645.5L666.9,644.9L668.6,644.3L670.5,643.7L672.5,642.6L675.0,642.2L676.6,642.3L678.3,641.8L680.1,642.0L682.0,641.8L684.0,642.0L686.0,641.7L688.1,641.7L690.3,641.3L692.5,640.7L694.4,640.3L696.4,640.3L698.5,639.8L700.6,639.9L702.8,639.6L705.0,639.7L707.2,639.5L709.3,639.4L711.3,639.5L713.2,639.0L715.0,638.7L717.3,638.0L719.3,637.8L721.3,638.0L723.1,637.6L724.9,637.4L726.6,637.0L728.3,636.3L730.0,636.1L731.9,635.4L733.8,634.8L735.5,633.8L737.3,633.1L739.0,632.4L740.7,631.7L742.5,631.4L744.6,631.5L746.8,631.4L748.9,631.3L751.0,631.1L753.1,630.9L755.0,630.9L757.2,631.0L759.2,631.8L761.1,631.9L763.0,632.3L765.0,632.4L767.0,632.2L769.0,631.9L771.0,630.7L773.0,630.0L775.0,629.1L777.0,628.8L779.0,628.8L781.0,628.8L783.0,628.8L785.0,628.5L786.9,628.1L788.6,627.3L790.5,626.5L792.5,626.1L795.0,625.9L796.6,626.1L798.5,625.9L800.5,626.3L802.5,626.4L804.7,627.2L806.8,627.7L808.8,627.9L810.7,628.0L812.5,628.4L814.6,627.8L816.5,627.6L818.3,626.9L820.1,625.8L821.8,625.2L823.4,624.3L825.0,623.8L827.2,623.4L829.2,623.3L831.1,623.5L833.0,623.3L835.0,623.0L837.0,622.6L838.9,622.6L840.8,622.3L842.8,621.7L845.0,621.0L846.8,620.3L848.5,619.6L850.3,619.1L852.3,618.9L854.7,618.6L857.5,618.0L859.0,618.1L860.7,617.9L862.4,617.8L864.3,617.6L866.2,617.5L868.2,617.4L870.2,617.4L872.3,617.3L874.4,617.6L876.5,617.6L878.5,617.7L880.5,617.2L882.5,617.1L884.5,616.6L886.4,616.2L888.5,616.0L890.5,615.9L892.6,615.6L894.6,615.6L896.6,615.5L898.6,615.4L900.5,615.5L902.4,615.2L904.2,614.9L905.9,614.8L907.5,614.5L909.9,614.1L912.1,614.5L914.1,614.4L915.9,614.6L917.7,614.6L919.3,614.8L920.9,614.7L922.5,614.5L924.8,614.0L926.9,613.5L928.7,612.3L930.6,611.8L932.5,611.7L934.5,612.1L936.4,612.7L938.3,613.9L940.3,614.5L942.5,614.7L944.5,614.5L946.5,613.8L948.7,613.2L950.8,612.7L953.0,611.9L955.0,611.4L957.0,611.3L958.9,611.8L960.9,612.6L962.7,612.9L964.5,613.1L966.2,612.9L968.0,612.7L969.4,612.1L970.8,611.1L972.6,610.6L975.0,609.8L976.6,609.7L978.4,609.4L980.5,609.2L982.7,609.2L984.9,609.0L987.2,608.4L989.4,608.0L991.5,607.6L993.4,607.2L995.0,607.2L997.6,607.4L999.7,608.5L1001.5,609.5L1003.2,610.1L1005.0,610.3L1006.5,610.1L1007.8,609.6L1009.1,608.7L1010.6,607.8L1012.5,606.6L1015.0,605.7L1016.4,605.1L1018.0,605.0L1019.8,605.3L1021.7,604.9L1023.6,605.1L1025.7,604.6L1027.8,604.5L1029.9,604.2L1032.0,604.3L1034.1,603.6L1036.1,603.2L1038.1,602.9L1040.0,602.6L1042.2,602.7L1044.4,602.9L1046.6,602.6L1048.8,602.2L1051.0,601.9L1053.1,601.6L1055.2,601.6L1057.2,601.1L1059.1,600.4L1060.8,600.3L1062.5,600.0L1065.0,599.5L1066.9,599.1L1068.6,598.8L1070.3,598.7L1072.3,597.8L1075.0,597.2L1076.5,597.0L1078.3,597.0L1080.2,596.7L1082.2,596.7L1084.3,596.7L1086.4,596.7L1088.6,596.8L1090.8,596.7L1092.9,596.9L1094.9,596.8L1096.7,596.3L1098.5,595.7L1100.0,595.6L1102.7,595.1L1104.9,595.0L1106.8,594.4L1108.4,594.3L1110.1,593.8L1112.0,593.8L1113.9,593.9L1115.6,594.1L1117.3,594.1L1119.2,594.2L1121.5,593.7L1124.5,593.4L1126.0,593.5L1127.8,593.2L1129.7,593.1L1131.8,592.5L1133.9,592.3L1136.2,591.6L1138.4,590.9L1140.7,590.2L1142.9,589.5L1145.0,588.6L1147.0,588.1L1148.9,587.8L1150.5,587.5L1152.0,587.5L1155.1,587.4L1157.1,587.4L1158.7,587.5L1160.1,587.7L1162.0,587.6L1164.0,587.2L1166.1,586.8L1168.2,586.2L1170.4,585.5L1172.5,585.3L1174.5,585.2L1176.5,585.2L1178.1,585.6L1179.7,585.7L1181.7,585.6L1184.5,585.1L1186.1,585.0L1188.0,584.4L1190.1,584.5L1192.3,584.1L1194.6,583.8L1196.9,583.7L1199.2,583.4L1201.4,583.1L1203.5,582.3L1205.4,581.7L1207.0,581.1L1209.8,580.6L1211.9,579.5L1213.6,579.0L1215.2,578.4L1217.0,578.2L1218.9,578.4L1220.8,578.7L1222.6,579.7L1224.7,579.8L1227.0,579.9L1228.6,579.6L1230.2,579.0L1231.8,578.6L1233.6,578.4L1235.4,578.0L1237.4,577.6L1239.6,577.0L1242.0,576.8L1243.6,576.5L1245.4,576.2L1247.3,575.9L1249.4,575.5L1251.5,574.8L1253.6,574.4L1255.7,574.5L1257.8,574.7L1259.9,574.7L1261.9,574.3L1263.7,574.1L1265.5,573.9L1267.0,573.5L1269.7,573.3L1271.9,572.4L1273.7,571.9L1275.4,571.1L1277.3,571.0L1279.5,570.5L1281.3,570.8L1283.2,570.8L1285.2,570.7L1287.3,570.6L1289.5,570.6L1291.5,570.2L1293.5,570.2L1295.4,570.3L1297.0,570.1L1299.2,569.8L1300.8,569.0L1302.3,568.4L1304.2,568.1L1307.0,568.0L1308.5,567.8L1310.2,567.5L1312.1,567.1L1314.1,566.8L1316.2,566.7L1318.4,566.9L1320.6,566.9L1322.8,567.0L1324.9,566.7L1326.9,566.7L1328.8,566.8L1330.5,566.4L1332.0,566.3L1334.8,565.4L1336.7,564.6L1338.2,564.0L1339.8,563.8L1342.0,563.6L1343.6,563.7L1345.3,564.0L1347.1,563.7L1349.0,564.0L1351.0,563.8L1353.0,563.9L1355.1,563.8L1357.3,563.2L1359.5,562.6L1361.2,562.6L1363.0,562.1L1364.9,561.6L1366.9,561.4L1368.9,561.0L1370.9,560.5L1372.9,559.6L1374.9,558.8L1376.8,558.5L1378.6,558.0L1380.4,557.6L1382.0,557.3L1384.2,556.9L1386.3,557.1L1388.2,557.0L1390.0,557.5L1391.7,557.4L1393.4,557.2L1395.2,556.7L1397.0,556.0L1398.8,555.6L1400.6,555.2L1402.4,554.4L1404.2,553.6L1406.0,553.1L1407.9,552.6L1409.9,552.4L1412.0,552.2L1413.8,552.0L1415.5,551.7L1417.3,551.9L1419.2,551.7L1421.1,551.3L1423.0,551.5L1425.1,551.6L1427.3,552.0L1429.6,551.7L1432.0,551.6L1433.7,551.2L1435.5,550.8L1437.4,550.6L1439.4,550.1L1441.4,549.7L1443.5,548.9L1445.6,548.3L1447.8,548.3L1449.9,548.2L1452.0,547.9L1454.1,547.7L1456.2,547.3L1458.2,547.1L1460.1,546.9L1462.0,546.4L1464.1,546.1L1466.2,545.7L1468.2,545.7L1470.2,545.6L1472.2,545.5L1474.1,545.7L1476.0,545.4L1477.9,545.5L1479.7,545.2L1481.6,544.8L1483.4,544.4L1485.2,544.3L1487.0,544.3L1489.2,543.7L1491.4,543.7L1493.6,543.5L1495.9,543.3L1498.1,543.0L1500.2,542.6L1502.2,541.7L1504.1,540.9L1505.7,540.7L1507.1,540.1L1508.2,539.9"/>
<path stroke="#008000" d="M107.7,693.6L108.8,693.2L110.2,692.6L111.9,692.0L113.8,691.2L115.8,690.3L118.0,689.1L120.3,687.9L122.6,686.6L125.0,685.6L126.5,685.1L128.2,684.5L129.8,684.1L131.6,683.4L133.4,682.3L135.2,681.4L137.0,680.3L138.9,679.4L140.8,678.4L142.6,677.4L144.5,676.4L146.4,675.5L148.2,674.5L150.0,673.7L151.9,673.0L153.8,672.5L155.8,671.4L157.7,670.6L159.6,669.4L161.5,668.5L163.5,667.9L165.4,667.2L167.3,666.6L169.2,665.7L171.2,665.3L173.1,664.7L175.0,664.2L177.0,663.5L178.9,662.7L181.0,661.4L183.0,660.6L185.1,659.5L187.1,659.0L189.1,657.9L191.1,657.2L193.0,656.4L194.9,655.7L196.7,654.9L198.4,654.6L200.0,653.8L202.4,652.6L204.5,651.6L206.4,650.7L208.1,650.1L209.8,649.5L211.5,648.8L213.2,648.0L215.0,647.4L216.7,646.5L218.3,645.6L220.0,644.6L221.7,643.6L223.3,642.9L225.0,641.7L226.7,640.6L228.3,639.5L230.0,638.4L231.7,637.4L233.3,636.2L235.0,635.7L236.7,634.7L238.3,633.7L240.0,632.2L241.7,631.0L243.3,629.8L245.0,628.6L246.5,627.6L248.0,626.4L249.5,625.3L251.0,624.3L252.5,622.9L254.0,621.7L255.5,620.6L257.0,619.6L258.5,618.6L260.0,617.3L261.7,616.0L263.3,614.7L265.0,613.2L266.7,611.8L268.3,610.3L270.0,608.8L271.7,607.8L273.3,606.6L275.0,605.4L276.7,604.2L278.4,603.0L280.2,602.0L281.9,600.9L283.7,600.1L285.4,598.7L287.0,597.5L288.6,596.3L290.0,595.4L292.2,594.4L293.9,593.9L295.5,593.7L297.4,593.6L300.0,592.7L301.4,591.9L303.0,591.2L304.7,590.6L306.5,589.6L308.4,588.9L310.3,587.7L312.3,586.7L314.3,585.7L316.2,585.0L318.1,584.4L320.0,583.9L321.8,583.2L323.6,582.7L325.5,582.0L327.3,581.2L329.1,580.5L330.9,579.7L332.7,579.0L334.5,578.3L336.4,577.5L338.2,576.8L340.0,575.9L341.8,575.4L343.7,574.8L345.6,574.0L347.5,573.3L349.4,572.3L351.2,571.3L353.1,570.2L354.9,569.6L356.7,568.9L358.4,568.2L360.0,567.2L362.1,566.7L364.1,565.9L366.0,565.3L367.8,564.5L369.6,563.3L371.4,562.4L373.2,561.2L375.0,560.1L376.9,559.3L378.8,558.5L380.6,558.1L382.5,557.5L384.4,556.8L386.2,556.3L388.1,555.6L390.0,555.3L391.8,554.5L393.6,553.4L395.4,552.5L397.2,551.5L399.0,550.6L400.9,549.9L402.9,549.6L405.0,548.9L406.8,548.6L408.7,548.0L410.6,547.7L412.6,547.2L414.7,546.6L416.8,546.0L418.8,545.6L420.9,545.1L423.0,544.6L425.0,544.6L427.0,544.8L429.0,544.8L431.0,544.2L433.0,544.0L435.0,543.5L437.0,543.3L439.0,543.4L441.0,542.9L443.0,542.5L445.0,542.5L447.0,542.4L449.0,542.5L451.0,542.6L453.0,542.8L455.0,542.7L457.0,542.5L459.0,542.7L461.0,542.7L463.0,542.9L465.0,542.9L467.0,542.9L469.1,542.9L471.2,543.1L473.2,543.5L475.3,543.6L477.4,543.5L479.4,543.1L481.3,542.6L483.2,542.2L485.0,542.2L487.0,542.3L488.9,542.1L490.6,541.8L492.2,541.7L493.9,541.6L495.7,541.3L497.7,541.1L500.0,540.5L501.6,540.1L503.3,539.5L505.1,539.2L507.0,539.0L508.9,538.9L510.9,538.5L512.9,538.5L514.9,537.9L517.0,537.3L519.0,536.7L521.1,536.5L523.0,535.6L525.0,534.8L526.9,534.0L528.8,533.3L530.8,532.8L532.7,532.4L534.6,531.8L536.5,531.5L538.5,530.6L540.4,529.8L542.3,529.3L544.2,528.7L546.2,527.9L548.1,527.0L550.0,526.3L551.9,526.0L553.8,525.4L555.8,524.6L557.7,524.4L559.6,523.7L561.5,523.2L563.5,522.0L565.4,521.5L567.3,520.6L569.2,520.1L571.2,519.3L573.1,518.6L575.0,518.4L576.9,517.9L578.8,517.2L580.8,517.0L582.7,516.5L584.6,515.7L586.5,514.9L588.5,513.9L590.4,513.2L592.3,512.5L594.2,512.0L596.2,511.5L598.1,511.0L600.0,510.3L601.9,509.6L603.8,509.1L605.8,508.5L607.7,508.1L609.6,507.6L611.5,506.8L613.5,506.2L615.4,505.9L617.3,505.6L619.2,505.3L621.2,504.9L623.1,504.4L625.0,503.9L626.9,503.4L628.8,502.5L630.8,501.8L632.7,501.0L634.6,500.0L636.5,499.5L638.5,498.8L640.4,498.3L642.3,497.6L644.2,497.3L646.2,496.6L648.1,495.7L650.0,495.1L651.9,494.2L653.8,493.6L655.8,493.0L657.7,492.1L659.6,491.3L661.5,490.9L663.5,490.3L665.4,489.8L667.3,489.1L669.2,488.4L671.2,487.1L673.1,486.1L675.0,485.0L676.8,484.5L678.6,483.6L680.4,482.7L682.1,481.7L683.9,481.2L685.7,480.3L687.5,479.8L689.3,479.1L691.1,478.3L692.9,477.1L694.6,475.9L696.4,474.7L698.2,473.9L700.0,472.9L701.8,472.0L703.6,471.2L705.4,470.3L707.1,469.4L708.9,468.2L710.7,467.2L712.5,466.1L714.3,465.1L716.1,463.9L717.9,462.7L719.6,461.3L721.4,460.4L723.2,459.5L725.0,458.8L726.7,457.9L728.3,456.9L730.0,456.0L731.7,454.9L733.3,454.0L735.0,452.6L736.7,451.6L738.3,450.4L740.0,449.2L741.7,447.7L743.3,446.4L745.0,445.7L746.7,444.5L748.3,443.8L750.0,442.7L751.7,441.4L753.3,440.3L755.0,439.3L756.7,438.1L758.3,436.9L760.0,435.8L761.7,435.0L763.3,434.0L765.0,432.9L766.7,431.6L768.3,430.8L770.0,429.9L771.7,429.0L773.3,428.1L775.0,426.7L776.7,425.4L778.3,423.9L780.0,422.8L781.7,421.3L783.3,420.1L785.0,418.9L786.7,417.6L788.3,416.5L790.0,415.2L791.7,414.1L793.3,413.1L795.0,412.1L796.7,410.8L798.3,409.6L800.0,408.2L801.6,406.7L803.1,405.3L804.7,404.1L806.2,402.9L807.8,402.0L809.4,400.7L810.9,399.5L812.5,398.6L814.1,397.1L815.6,395.9L817.2,394.7L818.8,393.1L820.3,392.0L821.9,390.4L823.4,388.8L825.0,387.5L826.5,386.1L828.0,384.5L829.4,383.3L830.9,382.3L832.4,381.3L833.9,380.1L835.4,378.7L836.9,377.3L838.4,376.0L839.9,374.9L841.4,373.5L842.8,372.1L844.3,370.6L845.7,369.2L847.2,368.0L848.6,366.5L850.0,365.2L851.6,363.9L853.2,362.6L854.8,361.4L856.4,360.4L858.1,358.9L859.7,357.7L861.2,356.1L862.8,354.8L864.3,353.6L865.8,352.2L867.3,351.0L868.7,349.8L870.0,348.8L871.3,347.7L872.5,346.9L874.5,345.1L876.3,343.8L877.8,342.9L879.2,341.9L880.6,340.7L881.9,339.5L883.4,338.0L885.0,336.5L886.4,335.2L887.8,333.8L889.3,332.2L890.8,330.7L892.3,329.6L893.9,328.3L895.4,326.8L897.0,325.3L898.5,323.9L900.0,322.3L901.4,321.0L902.7,319.8L904.1,318.5L905.5,317.0L906.8,315.3L908.2,313.8L909.5,312.4L910.9,310.6L912.3,309.4L913.6,307.9L915.0,306.7L916.4,305.1L917.8,303.7L919.2,302.2L920.6,300.8L922.0,299.4L923.4,297.7L924.7,295.9L926.1,294.3L927.4,293.0L928.7,291.1L930.0,289.7L931.4,288.0L932.7,286.2L933.9,284.4L935.2,282.9L936.4,281.2L937.6,279.8L938.8,278.6L940.0,277.5L941.3,276.4L942.5,275.1L944.1,273.9L945.7,272.4L947.3,271.2L948.9,270.1L950.5,269.1L952.1,268.3L953.6,267.3L955.0,266.1L956.8,265.2L958.5,264.0L960.2,263.2L961.8,262.4L963.4,261.6L965.0,261.3L967.0,260.6L969.0,259.9L971.0,259.8L973.0,259.6L975.0,259.8L977.0,259.7L979.1,259.9L981.2,259.8L983.2,260.6L985.0,261.3L986.7,262.6L988.2,263.4L989.6,264.6L991.0,266.2L992.5,267.6L993.6,269.1L994.8,270.5L996.0,272.1L997.1,273.7L998.3,275.9L999.5,277.7L1000.6,280.0L1001.4,281.5L1002.2,283.3L1002.9,285.0L1003.7,286.7L1004.5,288.7L1005.3,290.6L1006.0,292.7L1006.8,294.6L1007.5,296.7L1008.3,299.0L1008.9,300.7L1009.6,302.6L1010.2,304.3L1010.8,306.2L1011.4,308.0L1012.1,310.0L1012.7,312.0L1013.3,314.2L1013.9,316.1L1014.6,318.2L1015.2,320.1L1015.8,322.2L1016.3,324.1L1016.9,326.0L1017.4,327.7L1017.9,329.7L1018.5,331.3L1019.0,333.3L1019.5,335.5L1020.1,337.6L1020.6,339.5L1021.2,341.6L1021.7,343.5L1022.2,345.7L1022.8,348.0L1023.3,349.9L1023.8,352.0L1024.3,353.8L1024.8,356.1L1025.3,357.8L1025.8,359.9L1026.3,362.0L1026.8,364.3L1027.3,366.2L1027.8,368.1L1028.3,370.4L1028.8,372.5L1029.3,374.4L1029.8,376.3L1030.3,378.4L1030.8,380.3L1031.3,382.3L1031.8,384.5L1032.3,386.3L1032.8,388.5L1033.3,390.3L1033.8,392.3L1034.3,394.4L1034.8,396.4L1035.3,398.4L1035.8,400.4L1036.3,402.1L1036.8,404.1L1037.3,406.2L1037.8,407.9L1038.3,409.9L1038.8,412.1L1039.3,413.8L1039.8,416.1L1040.3,417.9L1040.9,419.9L1041.4,421.9L1041.9,424.1L1042.4,426.3L1042.9,428.2L1043.4,430.1L1043.9,432.1L1044.4,434.1L1044.9,436.1L1045.3,437.9L1045.8,439.7L1046.4,442.2L1046.9,444.2L1047.5,446.4L1048.0,448.4L1048.5,450.3L1049.0,452.2L1049.6,454.2L1050.0,455.9L1050.5,457.6L1051.0,459.3L1051.5,461.1L1051.9,462.4L1052.6,464.9L1053.3,467.3L1053.9,469.2L1054.4,471.0L1055.0,473.0L1055.6,474.5L1056.2,476.1L1057.2,478.2L1058.2,479.6L1059.2,481.1L1060.2,482.7L1061.2,483.8L1062.9,485.0L1064.5,486.2L1066.2,487.1L1068.1,487.6L1070.1,488.0L1072.5,488.6L1074.2,489.1L1076.1,489.8L1078.1,490.5L1080.3,491.0L1082.5,491.4L1084.4,491.5L1086.3,491.4L1088.3,490.9L1090.4,490.7L1092.6,490.4L1095.0,490.4L1096.7,490.1L1098.6,489.8L1100.5,489.0L1102.4,488.6L1104.4,488.6L1106.5,488.3L1108.5,488.2L1110.5,487.9L1112.5,487.8L1114.5,487.6L1116.4,487.4L1118.4,487.2L1120.4,486.8L1122.4,486.3L1124.4,486.0L1126.3,485.7L1128.2,485.6L1130.0,485.7L1132.0,485.9L1133.8,485.7L1135.6,485.5L1137.3,485.3L1139.1,485.1L1141.0,484.5L1142.9,484.2L1145.0,484.1L1146.8,483.4L1148.7,483.1L1150.6,482.5L1152.6,482.5L1154.7,482.3L1156.8,482.1L1158.8,481.7L1160.9,481.1L1163.0,480.8L1165.0,480.6L1167.0,480.2L1169.1,480.2L1171.3,479.9L1173.4,479.9L1175.5,480.2L1177.6,480.2L1179.6,480.3L1181.5,480.0L1183.3,479.8L1185.0,479.3L1187.4,478.8L1189.3,478.9L1191.0,478.6L1192.7,478.4L1194.6,478.0L1197.0,477.9L1198.6,477.6L1200.2,477.5L1201.8,477.1L1203.5,476.7L1205.2,476.4L1207.2,476.0L1209.3,475.4L1211.6,475.1L1214.2,474.8L1217.0,474.7L1218.6,474.2L1220.3,474.3L1222.2,473.7L1224.2,473.8L1226.3,473.2L1228.5,472.8L1230.7,472.3L1233.0,471.9L1235.3,471.3L1237.6,471.7L1239.9,471.6L1242.2,471.4L1244.4,471.0L1246.6,471.1L1248.6,470.6L1250.6,470.5L1252.4,470.1L1254.1,469.9L1255.7,469.4L1257.0,469.3L1260.6,468.9L1262.2,468.9L1263.0,468.6L1264.2,468.0L1267.0,467.7L1268.4,467.5L1270.0,466.8L1271.7,466.7L1273.6,466.5L1275.5,466.7L1277.6,466.7L1279.7,466.4L1281.8,466.7L1284.0,466.7L1286.3,467.1L1288.5,466.7L1290.7,466.4L1292.8,466.1L1295.0,466.0L1297.0,465.6L1299.0,465.7L1300.9,465.4L1302.8,464.9L1304.6,465.0L1306.4,464.7L1308.3,464.7L1310.1,464.2L1312.0,464.1L1313.9,463.3L1315.9,463.0L1317.9,462.5L1320.0,462.5L1322.2,462.7L1324.6,462.6L1327.0,462.2L1328.7,462.0L1330.5,462.0L1332.4,461.7L1334.4,461.4L1336.4,461.0L1338.6,460.6L1340.7,460.0L1342.9,460.0L1345.2,459.8L1347.4,459.9L1349.6,459.8L1351.9,459.8L1354.1,459.3L1356.2,459.0L1358.3,459.1L1360.4,458.6L1362.4,458.6L1364.3,458.3L1366.1,458.1L1367.7,458.1L1369.3,458.2L1370.7,458.2L1372.0,458.0L1375.9,456.9L1377.6,456.2L1378.2,455.8L1379.3,455.2L1382.0,454.5L1383.5,454.4L1385.1,454.2L1387.0,454.4L1389.0,454.4L1391.2,454.4L1393.4,454.7L1395.7,454.7L1398.0,454.3L1400.3,453.8L1402.6,453.8L1404.7,453.9L1406.8,453.8L1408.7,453.7L1410.5,453.5L1412.0,453.2L1415.0,453.0L1417.3,452.4L1419.0,451.8L1420.6,451.5L1422.3,450.9L1424.5,450.3L1426.3,449.9L1428.2,450.2L1430.2,450.4L1432.3,450.6L1434.5,450.9L1436.5,450.9L1438.5,450.5L1440.4,450.6L1442.0,450.1L1444.1,449.6L1445.3,448.8L1446.6,448.3L1448.5,447.5L1452.0,447.5L1453.3,447.6L1454.9,447.3L1456.5,447.4L1458.4,447.0L1460.3,446.8L1462.3,446.9L1464.4,446.6L1466.6,446.7L1468.8,446.5L1471.0,446.6L1473.2,446.9L1475.4,447.1L1477.6,447.1L1479.7,447.2L1481.7,446.9L1483.6,446.4L1485.4,446.1L1487.0,446.2L1489.5,445.9L1492.0,445.6L1494.4,445.2L1496.6,445.1L1498.8,445.1L1500.8,445.1L1502.7,444.9L1504.4,444.6L1505.9,443.9L1507.2,443.9L1508.2,443.7"/>
</g>
<g stroke="#000" stroke-width="3.8" fill="none" stroke-linecap="butt">
<path d="M107.5,109.2V1137.4"/>
<path d="M105.6,1135.5H1509.5"/>
<path d="M88.05,266.9H107.5"/>
<path d="M97.8,819.8H107.5"/>
<path d="M145.40,1135.5V1155"/>
<path d="M221.08,1135.5V1145"/>
<path d="M296.76,1135.5V1155"/>
<path d="M372.44,1135.5V1145"/>
<path d="M448.12,1135.5V1155"/>
<path d="M523.80,1135.5V1145"/>
<path d="M599.48,1135.5V1155"/>
<path d="M675.16,1135.5V1145"/>
<path d="M750.84,1135.5V1155"/>
<path d="M826.52,1135.5V1145"/>
<path d="M902.20,1135.5V1155"/>
<path d="M977.88,1135.5V1145"/>
<path d="M1053.56,1135.5V1155"/>
<path d="M1129.24,1135.5V1145"/>
<path d="M1204.92,1135.5V1155"/>
<path d="M1280.60,1135.5V1145"/>
<path d="M1356.28,1135.5V1155"/>
<path d="M1431.96,1135.5V1145"/>
<path d="M1507.64,1135.5V1155"/>
</g>
<text transform="translate(145.40,1205.60) scale(1,1.0304)" font-size="49.3" text-anchor="middle">-80</text>
<text transform="translate(296.76,1205.60) scale(1,1.0304)" font-size="49.3" text-anchor="middle">-60</text>
<text transform="translate(448.12,1205.60) scale(1,1.0304)" font-size="49.3" text-anchor="middle">-40</text>
<text transform="translate(599.48,1205.60) scale(1,1.0304)" font-size="49.3" text-anchor="middle">-20</text>
<text transform="translate(750.84,1205.60) scale(1,1.0304)" font-size="49.3" text-anchor="middle">0</text>
<text transform="translate(902.20,1205.60) scale(1,1.0304)" font-size="49.3" text-anchor="middle">20</text>
<text transform="translate(1053.56,1205.60) scale(1,1.0304)" font-size="49.3" text-anchor="middle">40</text>
<text transform="translate(1204.92,1205.60) scale(1,1.0304)" font-size="49.3" text-anchor="middle">60</text>
<text transform="translate(1356.28,1205.60) scale(1,1.0304)" font-size="49.3" text-anchor="middle">80</text>
<text transform="translate(1507.64,1205.60) scale(1,1.0304)" font-size="49.3" text-anchor="middle">100</text>
<text transform="translate(603.70,1274.80) scale(1,1.0283)" font-size="53.0" text-anchor="start">Temperature (</text>
<text transform="translate(941.50,1246.25) scale(1,0.9366)" font-size="26.8" text-anchor="start">o</text>
<text transform="translate(955.90,1274.80) scale(1,1.0111)" font-size="54.2" text-anchor="start">C)</text>
<text transform="translate(65.20,773.40) rotate(-90) scale(1,1.0168)" font-size="53.5" text-anchor="start">Heat flow (endo up)</text>
<path d="M1227.8,40.50H1324.7" stroke="#008000" stroke-width="4.2" fill="none"/>
<text transform="translate(1336.50,55.00) scale(1,1.0149)" font-size="43.65" text-anchor="start">Priplast 3294</text>
<path d="M1227.8,93.58H1324.7" stroke="#F6CE42" stroke-width="4.2" fill="none"/>
<text transform="translate(1336.50,108.15) scale(1,1.0149)" font-size="43.65" text-anchor="start">3294IPDI-7</text>
<path d="M1227.8,146.66H1324.7" stroke="#C0C0C0" stroke-width="4.2" fill="none"/>
<text transform="translate(1336.50,161.30) scale(1,1.0149)" font-size="43.65" text-anchor="start">3294IPDI-3</text>
<path d="M1227.8,199.74H1324.7" stroke="#FF7A0C" stroke-width="4.2" fill="none"/>
<text transform="translate(1336.50,214.45) scale(1,1.0149)" font-size="43.65" text-anchor="start">3294IPDI-2</text>
<path d="M1227.8,252.82H1324.7" stroke="#0000FF" stroke-width="4.2" fill="none"/>
<text transform="translate(1336.50,267.60) scale(1,1.0149)" font-size="43.65" text-anchor="start">3294IPDI-1</text>
<g stroke="#000" stroke-width="1.5" fill="#000">
<path d="M239.0,550.8L249.6,584.9" fill="none"/>
<path d="M257.1,609.2L243.3,586.8L255.9,582.9Z" stroke="none"/>
<path d="M306.5,632.0L317.1,666.1" fill="none"/>
<path d="M324.6,690.5L310.8,668.1L323.4,664.2Z" stroke="none"/>
<path d="M304.5,750.5L315.0,784.1" fill="none"/>
<path d="M322.6,808.5L308.7,786.1L321.3,782.2Z" stroke="none"/>
<path d="M358.2,838.2L368.6,872.8" fill="none"/>
<path d="M375.9,897.2L362.3,874.7L374.9,870.9Z" stroke="none"/>
<path d="M329.5,963.8L339.7,997.3" fill="none"/>
<path d="M347.1,1021.7L333.4,999.3L346.0,995.4Z" stroke="none"/>
</g>
</svg></body></html>
